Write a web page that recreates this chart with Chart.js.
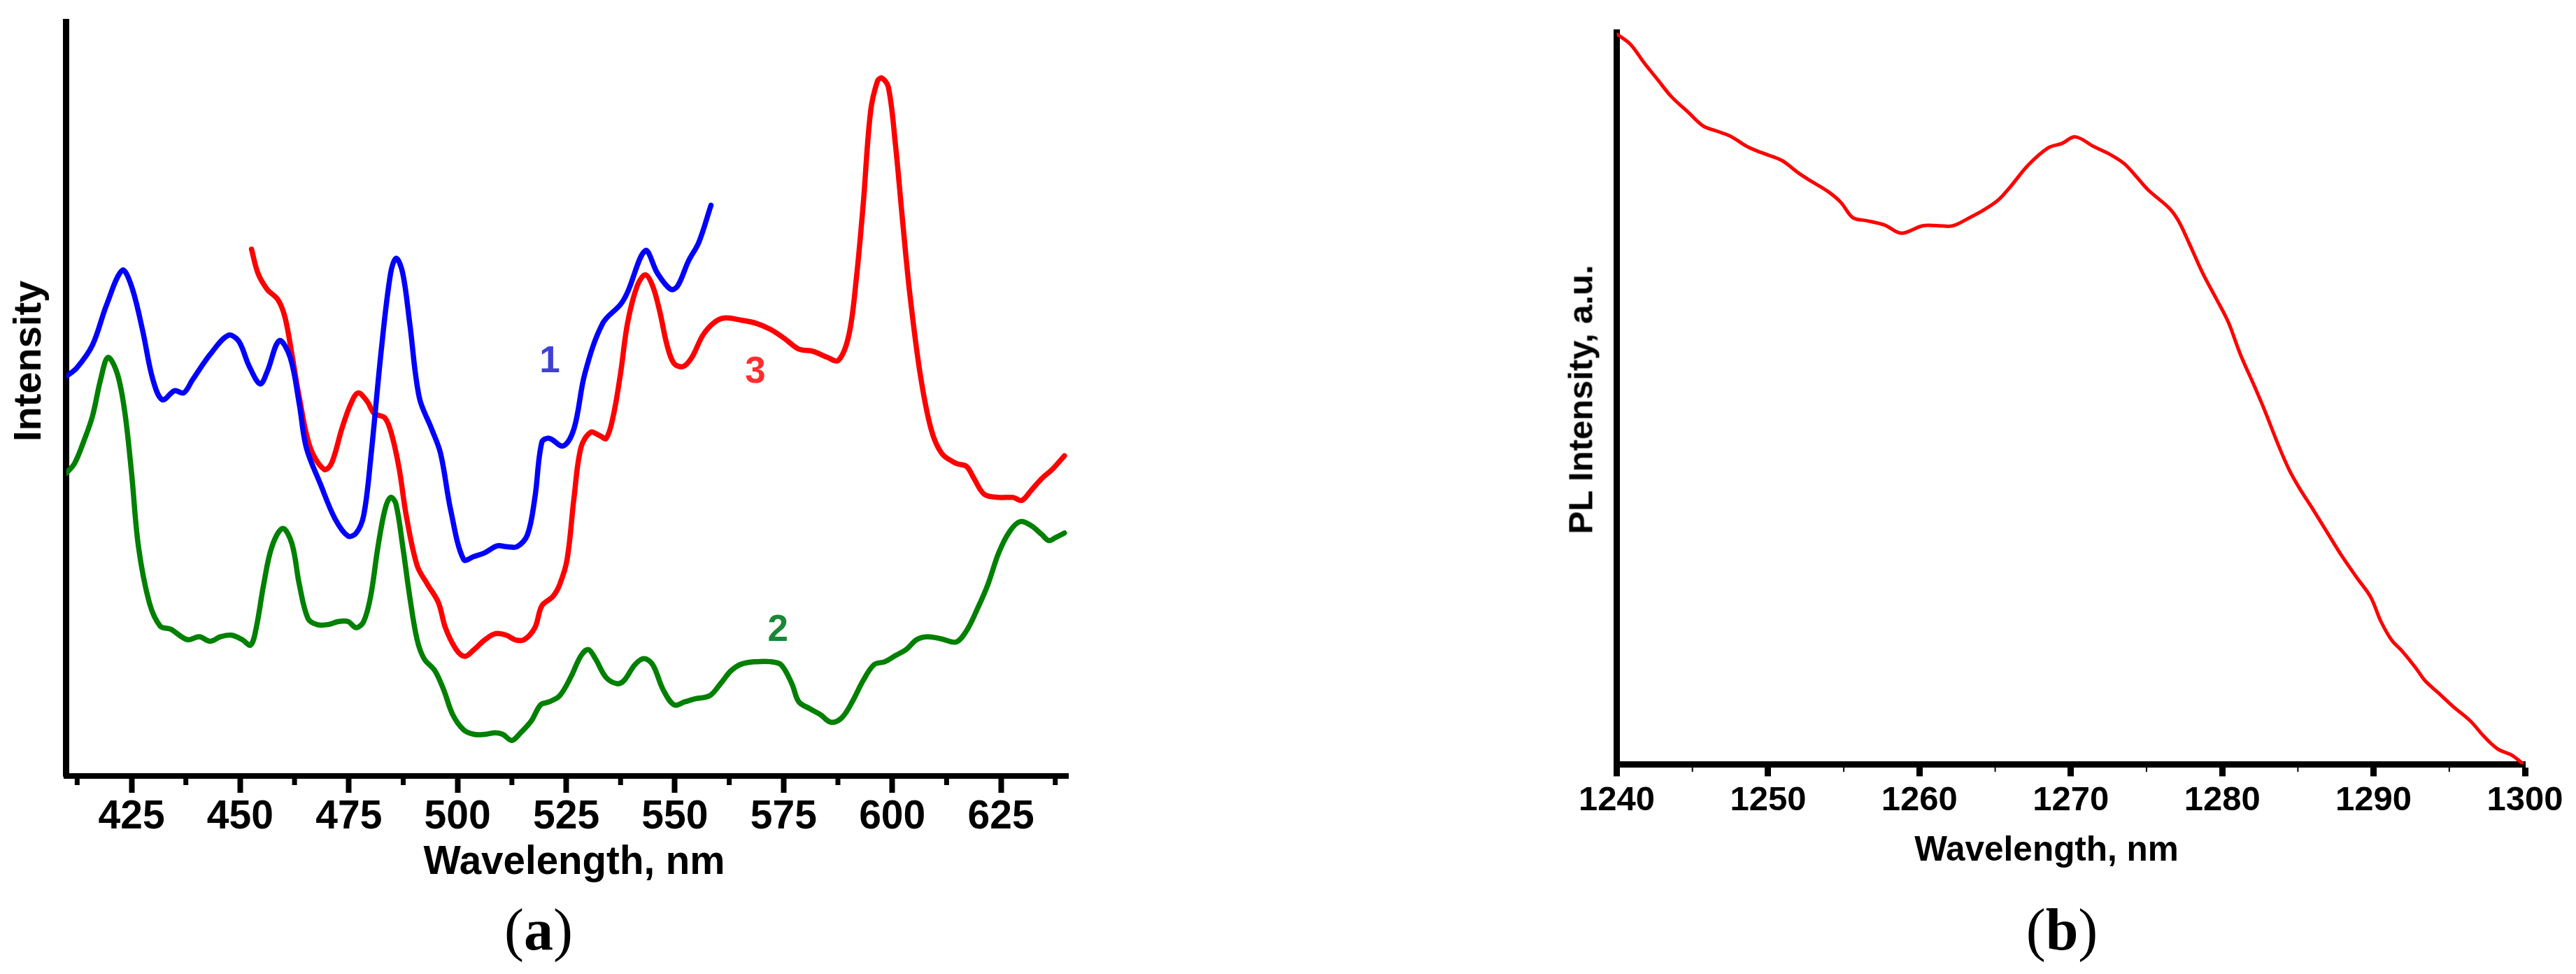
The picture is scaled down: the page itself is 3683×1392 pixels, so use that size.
<!DOCTYPE html>
<html>
<head>
<meta charset="utf-8">
<script src="https://cdn.jsdelivr.net/npm/chart.js@4.4.1/dist/chart.umd.min.js"></script>
<style>
  html, body { margin: 0; padding: 0; background: #fff; }
  body { width: 3683px; height: 1392px; position: relative; overflow: hidden; }
  canvas { position: absolute; top: 0; }
  .t { position: absolute; white-space: nowrap; color: #000; line-height: 1; }
  .sans { font-family: "Liberation Sans", Arial, sans-serif; font-weight: bold; }
  .serif { font-family: "Liberation Serif", "Times New Roman", serif; }
</style>
</head>
<body>
<canvas id="ca" width="1600" height="1392" style="left:0;width:1600px;height:1392px"></canvas>
<canvas id="cb" width="1533" height="1392" style="left:2150px;width:1533px;height:1392px"></canvas>

<div class="t sans" style="font-size:56px;left:39px;top:516px;transform:translate(-50%,-50%) rotate(-90deg)">Intensity</div>
<div class="t sans" style="font-size:56.5px;left:821px;top:1202px;transform:translateX(-50%)">Wavelength, nm</div>
<div class="t sans" style="font-size:49px;left:2260px;top:571px;transform:translate(-50%,-50%) rotate(-90deg)">PL Intensity, a.u.</div>
<div class="t sans" style="font-size:49.5px;left:2926px;top:1188px;transform:translateX(-50%)">Wavelength, nm</div>
<div class="t serif" style="font-size:84px;left:770px;top:1287px;transform:translateX(-50%)">(<b>a</b>)</div>
<div class="t serif" style="font-size:84px;left:2948px;top:1287px;transform:translateX(-50%)">(<b>b</b>)</div>

<script>
// ---------- Panel (a) data ----------
const waveBlue = [410.0,412.4,416.0,419.3,422.9,425.0,427.5,429.9,432.1,434.9,437.0,439.0,443.1,447.2,449.6,452.1,454.6,456.2,459.0,461.5,463.6,465.2,468.5,471.8,474.8,476.7,478.4,480.0,482.5,484.6,485.9,487.4,489.0,491.2,494.0,496.1,498.4,501.4,503.8,506.3,509.1,511.2,513.7,516.1,517.8,519.4,521.1,524.3,526.8,529.3,533.4,537.5,539.1,543.2,546.0,549.0,550.6,553.1,555.5,558.3];
const intBlue  = [52.8,53.9,56.9,62.3,66.8,64.7,59.0,52.4,49.7,50.9,50.6,52.3,55.7,58.2,57.5,54.1,51.8,53.4,57.5,55.3,49.1,43.4,38.5,34.0,31.7,32.1,34.4,41.8,56.5,66.4,68.4,66.4,59.8,50.0,45.9,42.6,35.2,28.6,29.0,29.5,30.4,30.3,30.3,31.9,36.8,44.1,44.6,43.6,45.9,53.2,59.8,62.3,63.9,69.4,66.4,64.3,64.7,68.0,70.5,75.4];

const waveRed = [452.6,454.1,456.2,458.7,460.3,461.9,463.6,466.1,469.3,471.0,473.4,475.4,477.1,479.2,480.8,483.3,484.9,486.6,488.2,490.7,493.1,495.6,497.2,499.7,501.7,503.8,506.3,508.7,511.2,513.2,515.3,517.8,519.4,521.9,523.5,525.2,526.8,528.4,530.6,532.6,534.2,535.8,537.5,539.1,541.3,543.2,544.9,546.5,548.2,549.8,551.9,553.9,556.4,558.8,561.3,565.4,568.7,572.0,575.2,578.5,581.8,585.1,587.6,590.0,591.7,593.3,595.0,596.6,597.6,599.1,600.7,602.3,604.0,606.4,608.9,611.4,614.7,617.1,618.8,621.2,624.5,627.8,629.8,631.9,634.4,636.8,639.6];
const intRed  = [69.6,66.4,64.3,62.9,60.6,55.7,50.0,43.4,40.5,41.3,45.9,49.1,50.6,49.5,47.9,47.3,45.0,40.5,34.4,27.8,25.3,22.9,19.6,16.7,15.8,16.7,18.0,18.8,18.6,18.0,18.0,19.6,22.5,23.7,25.3,28.6,36.8,43.4,45.4,45.0,44.6,47.5,53.2,59.8,64.7,66.2,64.7,61.4,56.9,54.5,54.1,55.3,58.2,59.8,60.5,60.2,59.8,59.0,57.8,56.4,56.1,55.3,54.9,58.2,65.5,75.4,87.7,91.8,92.2,91.0,83.6,73.8,63.9,53.2,45.9,42.6,41.3,40.9,39.3,37.2,36.8,36.8,36.4,37.7,39.3,40.5,42.3];

const waveGreen = [410.0,411.9,414.0,416.0,417.9,419.6,421.7,423.4,425.0,426.6,429.1,431.6,434.0,436.5,438.1,440.6,443.1,445.5,448.0,450.5,452.4,453.7,455.4,457.3,459.8,461.9,463.6,465.6,467.7,470.2,472.6,474.8,476.7,478.4,480.0,481.7,483.3,484.6,485.8,487.4,489.0,490.7,492.3,494.8,496.8,498.9,501.4,503.8,506.3,508.7,510.4,512.5,514.5,517.0,519.1,521.1,523.5,526.0,528.4,530.1,531.7,534.2,536.7,538.3,540.8,542.9,544.9,547.3,549.8,552.3,554.7,558.0,560.5,562.9,565.4,568.7,572.0,574.4,576.9,578.5,581.0,583.5,585.9,588.4,590.8,593.3,595.8,598.3,600.7,603.2,605.6,608.1,611.4,614.7,617.1,619.6,622.0,624.5,627.0,629.4,631.9,634.4,636.0,637.6,639.6];
const intGreen  = [40.0,41.3,44.2,47.5,52.4,55.3,53.2,48.3,40.1,30.3,22.9,19.8,19.4,18.4,18.0,18.4,17.8,18.4,18.6,18.0,17.3,19.6,25.3,30.3,32.7,30.7,25.3,20.8,20.0,20.0,20.4,20.4,19.6,20.4,23.7,30.3,35.2,36.8,36.0,30.3,23.7,18.0,15.5,13.9,11.4,8.1,6.1,5.5,5.5,5.7,5.5,4.7,5.7,7.3,9.4,9.8,10.6,13.0,15.9,16.7,15.5,13.0,12.2,12.6,14.7,15.5,14.7,11.4,9.4,9.8,10.2,10.6,12.2,13.9,14.8,15.1,15.1,14.7,12.2,9.8,8.9,8.1,7.1,7.7,9.8,12.6,14.7,15.1,15.9,16.7,18.0,18.4,18.1,17.7,19.2,22.1,25.3,29.5,32.3,33.6,33.1,31.9,31.1,31.5,32.1];

const ticksA = [425, 450, 475, 500, 525, 550, 575, 600, 625];
const minorTicksA = [412.5, 437.5, 462.5, 487.5, 512.5, 537.5, 562.5, 587.5, 612.5, 637.5];

const curveLabelText  = ['1', '3', '2'];
const curveLabelWave  = [521.2, 568.5, 573.7];
const curveLabelInt   = [54.7, 53.3, 19.2];
const curveLabelColor = ['rgb(64,64,215)', 'rgb(255,45,45)', 'rgb(25,135,55)'];

// ---------- Panel (b) data ----------
const waveB = [1240.0,1240.9,1241.8,1242.7,1243.6,1244.7,1245.7,1246.6,1247.5,1248.6,1249.5,1250.9,1252.0,1252.9,1254.0,1254.8,1255.6,1256.5,1257.7,1258.8,1260.2,1261.3,1262.2,1263.3,1264.2,1265.2,1266.0,1267.2,1268.5,1269.4,1270.3,1271.5,1272.6,1273.5,1274.2,1275.1,1276.5,1277.1,1277.8,1278.7,1279.6,1280.4,1281.2,1282.1,1282.8,1283.7,1284.4,1285.1,1286.0,1286.9,1287.8,1288.9,1289.8,1290.5,1291.2,1291.9,1292.8,1293.4,1294.3,1295.3,1296.4,1297.3,1298.2,1299.1,1299.8];
const intB  = [99.4,98.0,95.5,93.2,90.9,88.8,86.9,86.2,85.5,84.1,83.3,82.2,80.5,79.3,77.9,76.5,74.4,74.0,73.4,72.3,73.3,73.3,73.3,74.4,75.4,76.8,78.6,81.6,83.9,84.5,85.4,84.1,83.0,81.8,80.3,78.2,75.7,74.0,71.0,66.9,63.4,60.2,55.8,51.6,48.2,43.5,40.2,37.6,34.7,31.7,28.7,25.4,22.8,19.4,16.9,15.4,13.1,11.4,9.7,7.8,5.9,3.8,2.1,1.3,0.2];

const ticksB = [1240, 1250, 1260, 1270, 1280, 1290, 1300];
const minorTicksB = [1245, 1255, 1265, 1275, 1285, 1295];

// ---------- helpers ----------
const pts = (xs, ys) => xs.map((x, i) => ({ x: x, y: ys[i] }));
const FONT = '"Liberation Sans", Arial, sans-serif';

const minorTickPlugin = {
  id: 'minorTicks',
  afterDraw(chart, args, opts) {
    const s = chart.scales.x;
    const ctx = chart.ctx;
    ctx.save();
    ctx.strokeStyle = '#000';
    ctx.lineWidth = opts.width;
    ctx.lineCap = 'butt';
    (opts.values || []).forEach(v => {
      const px = s.getPixelForValue(v);
      ctx.beginPath();
      ctx.moveTo(px, s.top);
      ctx.lineTo(px, s.top + opts.length);
      ctx.stroke();
    });
    ctx.restore();
  }
};

const curveLabelPlugin = {
  id: 'curveLabels',
  afterDatasetsDraw(chart, args, opts) {
    if (!opts.text) return;
    const ctx = chart.ctx, sx = chart.scales.x, sy = chart.scales.y;
    ctx.save();
    ctx.font = 'bold ' + opts.size + 'px ' + FONT;
    ctx.textAlign = 'center';
    ctx.textBaseline = 'middle';
    opts.text.forEach((t, i) => {
      ctx.fillStyle = opts.colors[i];
      ctx.fillText(t, sx.getPixelForValue(opts.waves[i]), sy.getPixelForValue(opts.ints[i]));
    });
    ctx.restore();
  }
};

function lineDs(data, color, width) {
  return { data: data, borderColor: color, borderWidth: width, pointRadius: 0,
           tension: 0.35, fill: false, borderJoinStyle: 'round', borderCapStyle: 'round' };
}

// ---------- Chart (a) ----------
new Chart(document.getElementById('ca'), {
  type: 'line',
  data: {
    datasets: [
      lineDs(pts(waveBlue, intBlue), '#0000ff', 7.5),
      lineDs(pts(waveRed, intRed), '#ff0000', 7.5),
      lineDs(pts(waveGreen, intGreen), '#008000', 7.5)
    ]
  },
  options: {
    responsive: false,
    animation: false,
    events: [],
    layout: { padding: { left: 0, right: 72.6, top: 31.5, bottom: 0 } },
    plugins: {
      legend: { display: false },
      tooltip: { enabled: false },
      minorTicks: { values: minorTicksA, length: 13, width: 7 },
      curveLabels: { text: curveLabelText, waves: curveLabelWave, ints: curveLabelInt, colors: curveLabelColor, size: 53 }
    },
    scales: {
      x: {
        type: 'linear', min: 410, max: 640.5,
        afterBuildTicks: s => { s.ticks = ticksA.map(v => ({ value: v })); },
        afterFit: s => { s.height = 283; },
        border: { display: true, color: '#000', width: 8 },
        grid: { display: true, drawOnChartArea: false, drawTicks: true, tickLength: 24, tickWidth: 8, tickColor: '#000', lineWidth: 1 },
        ticks: { color: '#000', padding: 1, maxRotation: 0, autoSkip: false,
                 callback: v => String(v),
                 font: { family: FONT, size: 57, weight: 'bold' } }
      },
      y: {
        type: 'linear', min: 0, max: 99.6,
        afterFit: s => { s.width = 94.8; },
        border: { display: true, color: '#000', width: 9 },
        grid: { display: false },
        ticks: { display: false }
      }
    }
  },
  plugins: [minorTickPlugin, curveLabelPlugin]
});

// ---------- Chart (b) ----------
new Chart(document.getElementById('cb'), {
  type: 'line',
  data: { datasets: [ lineDs(pts(waveB, intB), '#ff0000', 5) ] },
  options: {
    responsive: false,
    animation: false,
    events: [],
    layout: { padding: { left: 0, right: 73, top: 46.5, bottom: 0 } },
    plugins: {
      legend: { display: false },
      tooltip: { enabled: false },
      minorTicks: { values: minorTicksB, length: 10.5, width: 2 }
    },
    scales: {
      x: {
        type: 'linear', min: 1240, max: 1300,
        afterBuildTicks: s => { s.ticks = ticksB.map(v => ({ value: v })); },
        afterFit: s => { s.height = 299.5; },
        border: { display: true, color: '#000', width: 9 },
        grid: { display: true, drawOnChartArea: false, drawTicks: true, tickLength: 17, tickWidth: 9, tickColor: '#000', lineWidth: 1 },
        ticks: { color: '#000', padding: 6, maxRotation: 0, autoSkip: false,
                 callback: v => String(v),
                 font: { family: FONT, size: 49, weight: 'bold' } }
      },
      y: {
        type: 'linear', min: 0, max: 99.6,
        afterFit: s => { s.width = 161.5; },
        border: { display: true, color: '#000', width: 9 },
        grid: { display: false },
        ticks: { display: false }
      }
    }
  },
  plugins: [minorTickPlugin]
});
</script>
</body>
</html>
